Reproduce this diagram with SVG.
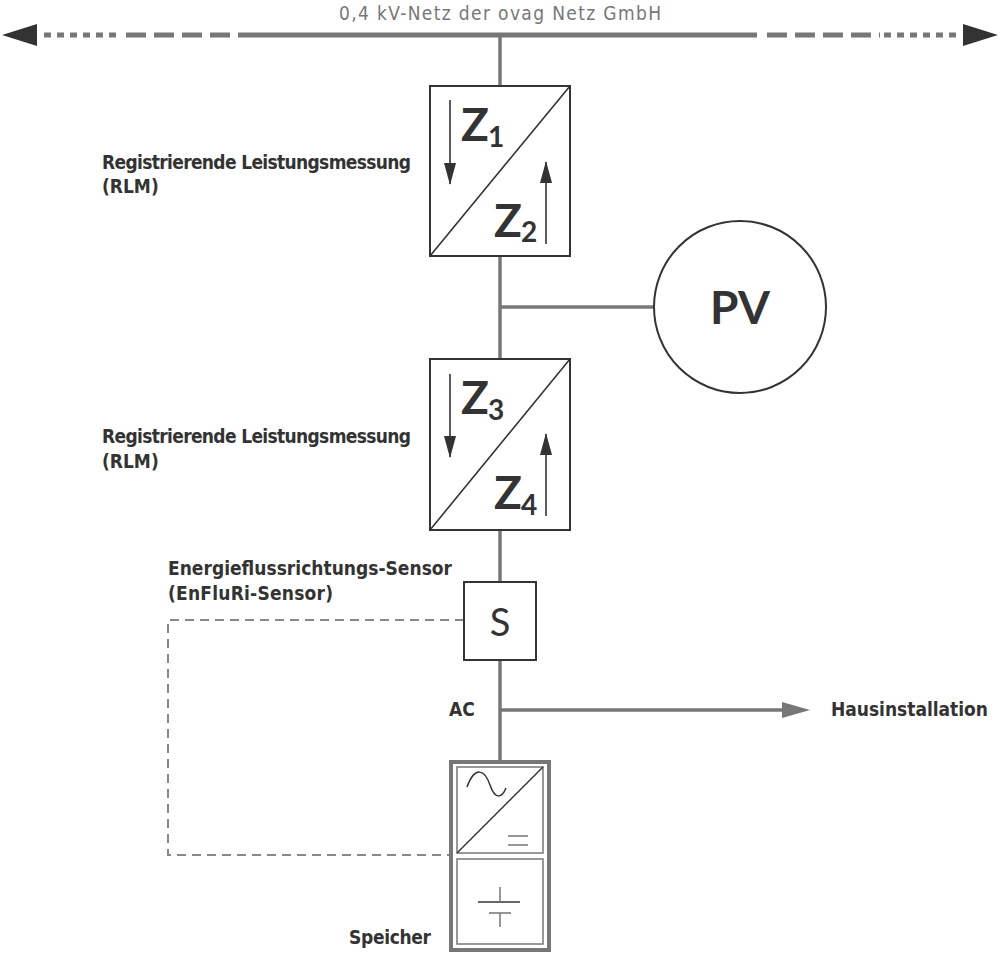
<svg xmlns="http://www.w3.org/2000/svg" width="1000" height="960" viewBox="0 0 1000 960">
<defs>
<style>
.ln{stroke:#777;stroke-width:3.5;fill:none}
.bx{stroke:#333;stroke-width:2;fill:#fff}
.lbl{font-family:"DejaVu Sans Condensed","Liberation Sans Narrow",sans-serif;font-size:19px;font-weight:bold;fill:#333}
.z{font-family:"Lato","Liberation Sans",sans-serif;font-size:46px;font-weight:bold;fill:#333}
.zs{font-family:"Lato","Liberation Sans",sans-serif;font-size:28px;font-weight:bold;fill:#333}
.thin{stroke:#333;stroke-width:1.6;fill:none}
</style>
<marker id="ah" markerWidth="22" markerHeight="12" refX="21" refY="6" orient="auto" markerUnits="userSpaceOnUse"><path d="M0,0 L22,6 L0,12 Z" fill="#333"/></marker>
<marker id="ga" markerWidth="28" markerHeight="16" refX="0" refY="8" orient="auto" markerUnits="userSpaceOnUse"><path d="M0,0 L28,8 L0,16 Z" fill="#777"/></marker>
</defs>
<g id="connectors">
<path d="M44,35 H122" stroke="#777" stroke-width="5" stroke-dasharray="7 6"/>
<path d="M126,35 H244" stroke="#777" stroke-width="5" stroke-dasharray="20 8"/>
<path d="M244,35 H757" stroke="#777" stroke-width="5"/>
<path d="M767,35 H880" stroke="#777" stroke-width="5" stroke-dasharray="20 8"/>
<path d="M884,35 H958" stroke="#777" stroke-width="5" stroke-dasharray="7 6"/>
<path d="M2,35 L37,24 L37,46 Z" fill="#333"/>
<path d="M998,35 L963,24 L963,46 Z" fill="#333"/>
<line class="ln" x1="500" y1="35" x2="500" y2="760"/>
<line class="ln" x1="500" y1="307" x2="654" y2="307"/>
<line class="ln" x1="500" y1="710" x2="782" y2="710" marker-end="url(#ga)"/>
<path d="M464,620 H168 V855 H449" stroke="#888" stroke-width="2" fill="none" stroke-dasharray="9 6"/>
</g>
<text x="500" y="20" text-anchor="middle" textLength="322" style="font-family:'DejaVu Sans Condensed','Liberation Sans',sans-serif;font-size:19px;fill:#777">0,4 kV-Netz der ovag Netz GmbH</text>
<g id="z12">
<rect class="bx" x="430" y="86" width="140" height="170"/>
<line class="thin" x1="430" y1="256" x2="570" y2="86"/>
<line class="thin" x1="450" y1="100" x2="450" y2="184" marker-end="url(#ah)"/>
<line class="thin" x1="546" y1="244" x2="546" y2="162" marker-end="url(#ah)"/>
<text class="z" x="461" y="141">Z</text><text class="zs" x="488" y="147">1</text>
<text class="z" x="494" y="237">Z</text><text class="zs" x="521" y="242">2</text>
</g>
<g id="rlm1"><text class="lbl" x="102" y="169" textLength="309">Registrierende Leistungsmessung</text><text class="lbl" x="102" y="193">(RLM)</text></g>
<g id="pv"><circle cx="740" cy="307" r="86" fill="#fff" stroke="#333" stroke-width="2"/><text x="740" y="324" text-anchor="middle" style="font-family:Lato,'Liberation Sans',sans-serif;font-size:46px;font-weight:bold;fill:#333">PV</text></g>
<g id="z34">
<rect class="bx" x="430" y="359" width="140" height="171"/>
<line class="thin" x1="430" y1="530" x2="570" y2="359"/>
<line class="thin" x1="450" y1="374" x2="450" y2="457" marker-end="url(#ah)"/>
<line class="thin" x1="546" y1="516" x2="546" y2="434" marker-end="url(#ah)"/>
<text class="z" x="461" y="414">Z</text><text class="zs" x="488" y="420">3</text>
<text class="z" x="494" y="509">Z</text><text class="zs" x="521" y="515">4</text>
</g>
<g id="rlm2"><text class="lbl" x="102" y="443" textLength="309">Registrierende Leistungsmessung</text><text class="lbl" x="102" y="468">(RLM)</text></g>
<g id="sensor">
<rect class="bx" x="464" y="582" width="72" height="78"/>
<text x="500" y="636" text-anchor="middle" style="font-family:Lato,'Liberation Sans',sans-serif;font-size:38px;fill:#333">S</text>
<text class="lbl" x="168" y="575" textLength="284">Energieflussrichtungs-Sensor</text>
<text class="lbl" x="168" y="600" textLength="165">(EnFluRi-Sensor)</text>
</g>
<text class="lbl" x="449" y="716">AC</text>
<text class="lbl" x="831" y="716" textLength="157">Hausinstallation</text>
<g id="speicher">
<rect x="451" y="762" width="98" height="188" fill="#fff" stroke="#777" stroke-width="4"/>
<rect x="457" y="767" width="86" height="86" fill="none" stroke="#777" stroke-width="1.5"/>
<line x1="457" y1="853" x2="543" y2="767" stroke="#333" stroke-width="1.5"/>
<path d="M467,787 C475,765 485,770 490,785 C495,800 502,798 506,788" fill="none" stroke="#333" stroke-width="1.5"/>
<path d="M508,836 H528 M508,845 H528" stroke="#777" stroke-width="1.5"/>
<rect x="457" y="859" width="86" height="85" fill="none" stroke="#777" stroke-width="1.5"/>
<path d="M478,902 H520" stroke="#333" stroke-width="1.5"/>
<path d="M489,913 H511 M500,887 V902 M500,913 V927" stroke="#777" stroke-width="1.5"/>
<text class="lbl" x="349" y="944" textLength="82">Speicher</text>
</g>
</svg>
